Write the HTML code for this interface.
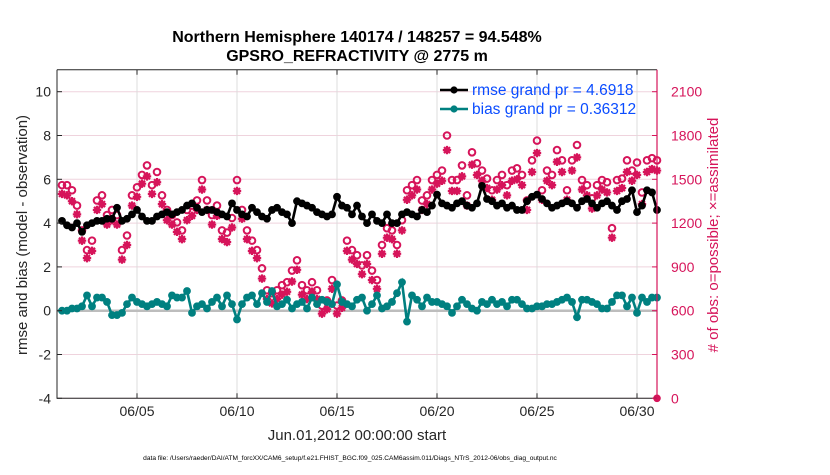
<!DOCTYPE html>
<html><head><meta charset="utf-8"><style>
body{margin:0;background:#fff;}
svg text{font-family:"Liberation Sans",Arial,sans-serif;}
</style></head><body>
<svg id="chart" width="830" height="470" xmlns="http://www.w3.org/2000/svg"></svg>
<script>
const rmse=[4.1,3.9,3.8,4.0,3.6,3.9,4.0,4.1,4.1,4.2,4.2,4.7,4.1,4.2,4.4,4.6,4.3,4.1,4.1,4.3,4.4,4.5,4.4,4.5,4.6,4.8,4.9,4.7,4.5,4.6,
4.6,4.5,4.4,4.3,4.9,4.6,4.4,4.3,4.7,4.5,4.3,4.2,4.6,4.7,4.5,4.4,4.0,5.0,4.9,4.8,4.7,4.5,4.4,4.3,4.4,5.2,4.8,4.7,4.4,4.8,
4.3,4.0,4.4,4.1,4.0,4.4,4.0,4.0,4.4,4.5,4.4,4.3,4.6,4.5,4.8,5.3,4.9,4.8,4.7,4.9,5.0,4.8,4.7,4.9,5.7,5.1,5.0,4.8,4.9,4.7,
4.8,4.6,4.6,5.0,5.2,5.3,5.1,4.9,4.7,4.8,4.9,5.0,4.9,4.7,5.0,5.1,4.9,4.7,4.9,5.0,4.8,4.6,5.0,5.1,5.5,4.5,4.8,5.5,5.4,4.6];
const bias=[0.0,0.0,0.1,0.1,0.2,0.7,0.2,0.6,0.6,0.4,-0.2,-0.2,-0.1,0.3,0.6,0.4,0.3,0.2,0.3,0.4,0.3,0.2,0.7,0.6,0.6,0.9,-0.1,0.2,0.3,0.1,
0.4,0.6,0.2,0.7,0.3,-0.4,0.3,0.6,0.7,0.3,0.8,0.4,0.9,0.2,0.3,0.5,0.1,0.3,0.4,0.1,0.6,0.3,0.5,0.4,0.3,1.2,0.4,0.3,0.2,0.5,
0.6,0.0,0.3,0.7,0.1,0.2,0.4,0.8,1.3,-0.5,0.7,0.5,0.2,0.6,0.4,0.4,0.3,0.2,-0.1,0.2,0.5,0.3,0.1,0.0,0.4,0.3,0.5,0.3,0.4,0.2,
0.5,0.5,0.3,0.1,0.1,0.2,0.2,0.3,0.3,0.4,0.5,0.6,0.4,-0.3,0.5,0.5,0.4,0.3,0.1,0.1,0.4,0.7,0.7,0.2,0.6,-0.1,0.6,0.4,0.6,0.6];
const possible=[1460,1460,1425,1320,1150,1015,1080,1355,1390,1255,1290,1255,1015,1115,1390,1445,1530,1595,1460,1550,1390,1290,1255,1205,1150,1290,1320,1355,1495,1355,
1255,1320,1150,1135,1235,1495,1290,1150,1080,1015,890,740,720,740,775,795,875,945,775,740,795,740,635,670,810,635,670,1080,1015,980,
910,980,875,810,1050,1165,1150,1050,1220,1425,1460,1495,1355,1390,1495,1530,1560,1800,1495,1495,1595,1390,1685,1610,1560,1505,1425,1495,1530,1460,
1560,1575,1530,1355,1630,1765,1425,1560,1530,1700,1630,1425,1630,1735,1495,1460,1370,1460,1495,1480,1165,1495,1505,1630,1560,1615,1410,1630,1645,1630];
const assimilated=[1400,1390,1350,1260,1080,960,1010,1290,1330,1190,1220,1190,950,1050,1320,1380,1470,1520,1400,1480,1330,1220,1190,1140,1090,1220,1250,1290,1430,1290,
1190,1250,1090,1070,1170,1420,1230,1090,1010,960,820,680,650,680,710,730,800,880,710,680,730,680,580,610,750,580,620,1010,950,920,
850,920,810,750,990,1100,1090,990,1150,1360,1390,1430,1290,1330,1430,1470,1490,1700,1420,1420,1520,1320,1600,1530,1490,1440,1360,1430,1460,1390,
1490,1500,1460,1290,1550,1680,1360,1490,1460,1620,1550,1360,1560,1650,1430,1390,1300,1390,1430,1410,1100,1420,1440,1550,1490,1530,1330,1550,1570,1560];
const leftTicks=[-4,-2,0,2,4,6,8,10];
const rightTicks=[0,300,600,900,1200,1500,1800,2100];
const dayTicks=['06/05','06/10','06/15','06/20','06/25','06/30'];
const dayTickVals=[5,10,15,20,25,30];

const NS='http://www.w3.org/2000/svg';
const svg=document.getElementById('chart');
const X0=57,X1=657,Y0=69.8,Y1=398.3;
const RED='#d6145a',TEAL='#008080';
function xs(i){return X0+(i+1)*5;}
function xd(d){return X0+(d-1)*20;}
function yl(v){return 310.7-v*21.9;}
function yr(c){return yl(c/150-4);}
function el(tag,attrs,parent){const e=document.createElementNS(NS,tag);for(const k in attrs)e.setAttribute(k,attrs[k]);(parent||svg).appendChild(e);return e;}

const bg=el('rect',{x:X0,y:Y0,width:X1-X0,height:Y1-Y0,fill:'#fff'});


for(const c of rightTicks){const g=el('line',{x1:X0,x2:X1,y1:yr(c),y2:yr(c),stroke:'#efd3dd','stroke-width':1});

}
dayTickVals.forEach(d=>{const g=el('line',{x1:xd(d),x2:xd(d),y1:Y0,y2:Y1,stroke:'#dcdcdc','stroke-width':1});

});
const zl=el('line',{x1:X0,x2:X1,y1:yl(0),y2:yl(0),stroke:'#bdbdbd','stroke-width':2.5});



possible.forEach((c,i)=>{const m=el('circle',{cx:xs(i),cy:yr(c),r:3.3,fill:'none',stroke:RED,'stroke-width':2});

});
assimilated.forEach((c,i)=>{const x=xs(i),y=yr(c);
const m=el('path',{d:`M${x-4.2},${y}H${x+4.2}M${x},${y-4.2}V${y+4.2}M${x-3},${y-3}L${x+3},${y+3}M${x-3},${y+3}L${x+3},${y-3}`,stroke:RED,'stroke-width':2.2});

});

function series(arr,color,name){
 const p=el('polyline',{points:arr.map((v,i)=>xs(i)+','+yl(v)).join(' '),fill:'none',stroke:color,'stroke-width':2.6});
 
 
 arr.forEach((v,i)=>{const c=el('circle',{cx:xs(i),cy:yl(v),r:3.9,fill:color});
 
 });
}
series(rmse,'#000','rmse');
series(bias,TEAL,'bias');
const endm=el('circle',{cx:X1,cy:Y1,r:3.8,fill:RED});



const la=el('path',{d:`M${X0},${Y0}V${Y1}H${X1}`,stroke:'#262626','stroke-width':1,fill:'none'});


const ta=el('line',{x1:X0,x2:X1,y1:Y0,y2:Y0,stroke:'#262626','stroke-width':1});


const ra=el('line',{x1:X1,x2:X1,y1:Y0,y2:Y1,stroke:RED,'stroke-width':1.2});


leftTicks.forEach(v=>{el('line',{x1:X0,x2:X0+5,y1:yl(v),y2:yl(v),stroke:'#262626'});
const t=el('text',{x:X0-6,y:yl(v)+5,'text-anchor':'end','font-size':14,fill:'#262626'});t.textContent=v;

});
rightTicks.forEach(c=>{el('line',{x1:X1-5,x2:X1,y1:yr(c),y2:yr(c),stroke:RED});
const t=el('text',{x:X1+14,y:yr(c)+5,'font-size':14,fill:RED});t.textContent=c;

});
dayTickVals.forEach((d,k)=>{el('line',{x1:xd(d),x2:xd(d),y1:Y1,y2:Y1-5,stroke:'#262626'});el('line',{x1:xd(d),x2:xd(d),y1:Y0,y2:Y0+5,stroke:'#262626'});
const t=el('text',{x:xd(d),y:416,'text-anchor':'middle','font-size':14,fill:'#262626'});t.textContent=dayTicks[k];

});
</script>
<svg width="830" height="470" style="position:absolute;left:0;top:0" xmlns="http://www.w3.org/2000/svg">
<g font-family="Liberation Sans, Arial, sans-serif" font-weight="bold" font-size="16" text-anchor="middle" fill="#000">
<text x="357" y="42">Northern Hemisphere 140174 / 148257 = 94.548%</text>
<text x="357" y="61">GPSRO_REFRACTIVITY @ 2775 m</text></g>
<g font-family="Liberation Sans, Arial, sans-serif" font-size="15.5" fill="#0a4cff">
<line x1="440" x2="468" y1="90" y2="90" stroke="#000" stroke-width="2.4"/><circle cx="454" cy="90" r="3.6" fill="#000"/>
<text x="472" y="95">rmse grand pr = 4.6918</text>
<line x1="440" x2="468" y1="109" y2="109" stroke="#008080" stroke-width="2.4"/><circle cx="454" cy="109" r="3.6" fill="#008080"/>
<text x="472" y="114">bias grand pr = 0.36312</text></g>
<text transform="translate(27,235) rotate(-90)" text-anchor="middle" font-family="Liberation Sans, Arial, sans-serif" font-size="15" fill="#262626">rmse and bias (model - observation)</text>
<text transform="translate(718,235) rotate(-90)" text-anchor="middle" font-family="Liberation Sans, Arial, sans-serif" font-size="15" fill="#d6145a"># of obs: o=possible; ×=assimilated</text>
<text x="357" y="440" text-anchor="middle" font-family="Liberation Sans, Arial, sans-serif" font-size="15" fill="#262626">Jun.01,2012 00:00:00 start</text>
<text x="350" y="460" text-anchor="middle" font-family="Liberation Sans, Arial, sans-serif" font-size="6.6" fill="#000">data file: /Users/raeder/DAI/ATM_forcXX/CAM6_setup/f.e21.FHIST_BGC.f09_025.CAM6assim.011/Diags_NTrS_2012-06/obs_diag_output.nc</text>
</svg>
</body></html>
